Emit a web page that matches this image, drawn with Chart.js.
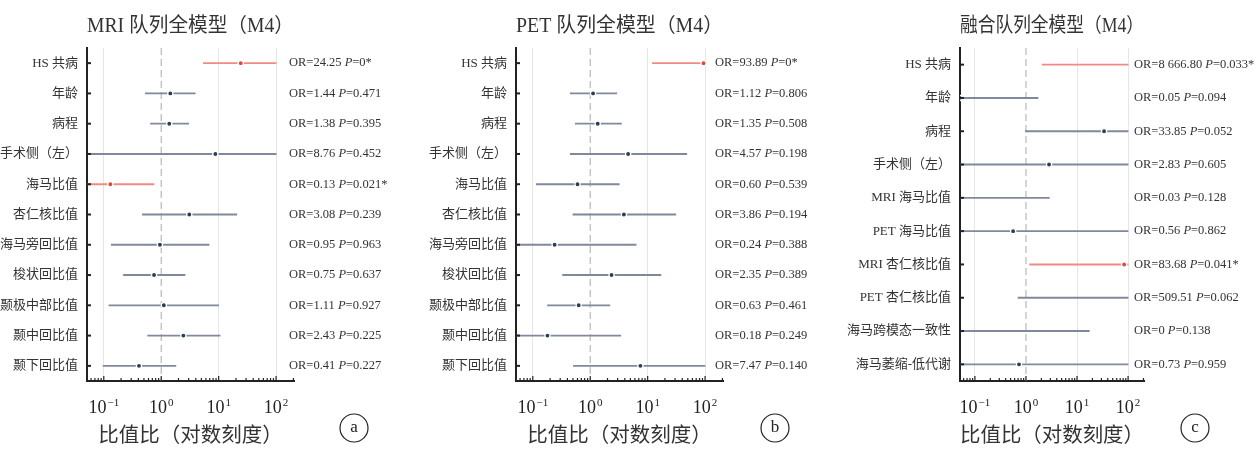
<!DOCTYPE html>
<html>
<head>
<meta charset="utf-8">
<script src="https://cdn.jsdelivr.net/npm/chart.js@4/dist/chart.umd.min.js"></script>
<style>
  html, body { margin: 0; padding: 0; background: #fff; }
  #wrap { position: relative; width: 1257px; height: 449px; }
  .panel { position: absolute; top: 0; width: 419px; height: 449px; }
</style>
</head>
<body>
<div id="wrap">
  <div class="panel" style="left:0"><canvas id="chartMri"></canvas></div>
  <div class="panel" style="left:419px"><canvas id="chartPet"></canvas></div>
  <div class="panel" style="left:838px"><canvas id="chartFus"></canvas></div>
</div>
<script>
// variables of the single-modality models
const labelsMri = ['HS 共病', '年龄', '病程', '手术侧（左）', '海马比值', '杏仁核比值', '海马旁回比值', '梭状回比值', '颞极中部比值', '颞中回比值', '颞下回比值'];

// MRI cohort: odds ratio, 95% CI, p value
const orMri = [24.25, 1.44, 1.38, 8.76, 0.13, 3.08, 0.95, 0.75, 1.11, 2.43, 0.41];
const loMri = [5.4, 0.53, 0.65, 0.01, 0.02, 0.47, 0.135, 0.22, 0.123, 0.58, 0.097];
const hiMri = [100, 3.9, 3.0, 100, 0.75, 20.7, 6.8, 2.6, 10, 10.6, 1.8];
const pMri = [0, 0.471, 0.395, 0.452, 0.021, 0.239, 0.963, 0.637, 0.927, 0.225, 0.227];

// PET cohort
const orPet = [93.89, 1.12, 1.35, 4.57, 0.60, 3.86, 0.24, 2.35, 0.63, 0.18, 7.47];
const loPet = [12.1, 0.45, 0.55, 0.45, 0.115, 0.5, 0.03, 0.33, 0.18, 0.02, 0.51];
const hiPet = [100, 2.9, 3.5, 48, 3.2, 31, 6.3, 17, 2.2, 3.4, 100];
const pPet = [0, 0.806, 0.508, 0.198, 0.539, 0.194, 0.388, 0.389, 0.461, 0.249, 0.140];

// fusion cohort
const labelsFus = ['HS 共病', '年龄', '病程', '手术侧（左）', 'MRI 海马比值', 'PET 海马比值', 'MRI 杏仁核比值', 'PET 杏仁核比值', '海马跨模态一致性', '海马萎缩-低代谢'];
const orFus = [8666.80, 0.05, 33.85, 2.83, 0.03, 0.56, 83.68, 509.51, 0, 0.73];
const loFus = [2.06, 0.001, 0.97, 0.01, 0.001, 0.01, 1.18, 0.7, 0.001, 0.01];
const hiFus = [100, 1.72, 100, 100, 2.87, 100, 100, 100, 17.4, 100];
const pFus = [0.033, 0.094, 0.052, 0.605, 0.128, 0.862, 0.041, 0.062, 0.138, 0.959];

// x axis (log) ticks: 10^exp
const xTicks = [0.1, 1, 10, 100];
const xTickExp = ['−1', '0', '1', '2'];

const FONT = "'Liberation Serif', 'Noto Sans CJK SC', serif";
const INK = '#333333';
const RED_LINE = '#ef8b83';
const RED_DOT = '#e0463b';
const GRAY_LINE = '#7f899b';
const NAVY_DOT = '#2c3e50';

function fmtOr(v) {
    if (v === 0) return '0';
    const parts = v.toFixed(2).split('.');
    return parts[0].replace(/\B(?=(\d{3})+(?!\d))/g, ' ') + '.' + parts[1];
}

function fmtP(p) {
    return (p === 0 ? '0' : p.toFixed(3)) + (p < 0.05 ? '*' : '');
}

function forestPanel(canvasId, title, letter, labels, or, lo, hi, p, box) {
    const sig = p.map(v => v < 0.05);

    // extra drawing: reference line, inward ticks, tick labels, OR/P texts, panel letter
    const decor = {
        id: 'decor',
        beforeDatasetsDraw(chart) {
            const { ctx, chartArea: a, scales: { x } } = chart;
            const px = x.getPixelForValue(1);
            ctx.save();
            ctx.strokeStyle = '#b9b9b9';
            ctx.lineWidth = 1.2;
            ctx.setLineDash([7, 4]);
            ctx.beginPath();
            ctx.moveTo(px, a.top);
            ctx.lineTo(px, a.bottom);
            ctx.stroke();
            ctx.restore();
        },
        afterDraw(chart) {
            const { ctx, chartArea: a, scales: { x, y } } = chart;
            ctx.save();
            ctx.strokeStyle = '#222';
            ctx.lineWidth = 2;
            labels.forEach((l, i) => {
                const py = y.getPixelForValue(i);
                ctx.beginPath();
                ctx.moveTo(a.left, py);
                ctx.lineTo(a.left + 4, py);
                ctx.stroke();
            });
            ctx.lineWidth = 1.2;
            for (let d = -2; d <= 2; d++) {
                for (let m = 1; m <= 9; m++) {
                    const v = m * Math.pow(10, d);
                    if (v < x.min || v > x.max) continue;
                    const px = x.getPixelForValue(v);
                    const len = m === 1 ? 5 : 3;
                    ctx.beginPath();
                    ctx.moveTo(px, a.bottom);
                    ctx.lineTo(px, a.bottom - len);
                    ctx.stroke();
                }
            }

            // x tick labels as 10 with a raised exponent
            ctx.fillStyle = '#222';
            ctx.textBaseline = 'alphabetic';
            ctx.textAlign = 'left';
            xTicks.forEach((v, i) => {
                const px = x.getPixelForValue(v);
                ctx.font = '18px ' + FONT;
                const wBase = ctx.measureText('10').width;
                ctx.font = '11px ' + FONT;
                const wExp = ctx.measureText(xTickExp[i]).width;
                const x0 = px - (wBase + wExp + 1) / 2;
                ctx.font = '18px ' + FONT;
                ctx.fillText('10', x0, a.bottom + 32);
                ctx.font = '11px ' + FONT;
                ctx.fillText(xTickExp[i], x0 + wBase + 1, a.bottom + 25);
            });

            ctx.textBaseline = 'middle';
            ctx.fillStyle = INK;
            labels.forEach((l, i) => {
                const py = y.getPixelForValue(i);
                let tx = a.right + box.textDx;
                const parts = [['OR=' + fmtOr(or[i]) + ' ', ''], ['P', 'italic '], ['=' + fmtP(p[i]), '']];
                parts.forEach(([t, st]) => {
                    ctx.font = st + '12.5px ' + FONT;
                    ctx.fillText(t, tx, py);
                    tx += ctx.measureText(t).width;
                });
            });

            // circled panel letter
            ctx.lineWidth = 1.2;
            ctx.strokeStyle = '#222';
            ctx.beginPath();
            ctx.arc(box.circleX, box.circleY, 14, 0, Math.PI * 2);
            ctx.stroke();
            ctx.fillStyle = '#222';
            ctx.textAlign = 'center';
            ctx.font = '17px ' + FONT;
            ctx.fillText(letter, box.circleX, box.circleY);
            ctx.restore();
        }
    };

    const points = or.map((v, i) => ({ x: v > 0 ? v : null, y: labels[i] }));

    new Chart(document.getElementById(canvasId), {
        type: 'bar',
        data: {
            labels: labels,
            datasets: [{
                type: 'scatter',
                data: points,
                pointRadius: 2.6,
                pointBackgroundColor: sig.map(s => s ? RED_DOT : NAVY_DOT),
                pointBorderColor: '#ffffff',
                pointBorderWidth: 1.3,
                order: 0,
            }, {
                type: 'bar',
                data: lo.map((v, i) => [v, hi[i]]),
                backgroundColor: sig.map(s => s ? RED_LINE : GRAY_LINE),
                barThickness: 1.2,
                clip: 0,
                order: 1,
            }],
        },
        options: {
            indexAxis: 'y',
            responsive: true,
            maintainAspectRatio: false,
            animation: false,
            layout: { padding: { left: 0, right: box.right, top: 0, bottom: 0 } },
            plugins: {
                legend: { display: false },
                tooltip: { enabled: false },
                title: {
                    display: true,
                    text: title,
                    fullSize: false,
                    color: INK,
                    font: { family: FONT, size: 20, weight: 'normal' },
                    padding: { top: 15, bottom: 9 },
                },
            },
            scales: {
                x: {
                    type: 'logarithmic',
                    min: 0.051,
                    max: 205,
                    afterBuildTicks: s => { s.ticks = xTicks.map(v => ({ value: v })); },
                    afterFit: s => { s.height = 68; },
                    ticks: { display: false },
                    grid: {
                        color: c => (c.tick && c.tick.value === 1) ? 'rgba(0,0,0,0)' : '#e6e6e6',
                        lineWidth: 1,
                        drawTicks: false,
                    },
                    border: { display: true, color: '#222', width: 2 },
                    title: {
                        display: true,
                        text: '比值比（对数刻度）',
                        color: INK,
                        font: { family: FONT, size: 20.5 },
                        padding: { top: 0, bottom: 0 },
                    },
                },
                y: {
                    type: 'category',
                    offset: true,
                    afterFit: s => { s.width = box.left; },
                    ticks: {
                        color: INK,
                        padding: 9,
                        autoSkip: false,
                        font: { family: FONT, size: 13 },
                    },
                    grid: { drawOnChartArea: false, drawTicks: false },
                    border: { display: true, color: '#222', width: 2 },
                },
            },
        },
        plugins: [decor],
    });
}

forestPanel('chartMri', 'MRI 队列全模型（M4）', 'a', labelsMri, orMri, loMri, hiMri, pMri,
    { left: 87, right: 125, textDx: -5, circleX: 354, circleY: 428 });
forestPanel('chartPet', 'PET 队列全模型（M4）', 'b', labelsMri, orPet, loPet, hiPet, pPet,
    { left: 97, right: 115, textDx: -8, circleX: 356, circleY: 428 });
forestPanel('chartFus', '融合队列全模型（M4）', 'c', labelsFus, orFus, loFus, hiFus, pFus,
    { left: 122, right: 113, textDx: -10, circleX: 357, circleY: 428 });
</script>
</body>
</html>
